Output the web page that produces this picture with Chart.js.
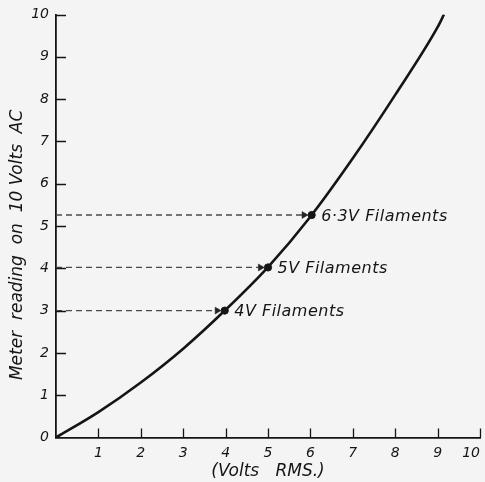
<!DOCTYPE html>
<html><head><meta charset="utf-8">
<script src="https://cdn.jsdelivr.net/npm/chart.js@4"></script>
<style>html,body{margin:0;padding:0;background:#f4f4f4;overflow:hidden}</style>
</head><body>
<canvas id="c" width="485" height="482"></canvas>
<script>
// ---- data ----
const curveX = [0, 1, 2, 3, 4, 5, 6, 7, 8, 9, 9.15];
const curveY = [0, 0.6, 1.3, 2.1, 3.02, 4.03, 5.22, 6.6, 8.1, 9.7, 10];
const markX = [3.98, 5.0, 6.03];
const markY = [3.0, 4.02, 5.26];
const markLabels = ['4V Filaments', '5V Filaments', '6\u00B73V Filaments'];
const xTickLabels = ['', '1', '2', '3', '4', '5', '6', '7', '8', '9', '10'];
const yTickLabels = ['0', '1', '2', '3', '4', '5', '6', '7', '8', '9', '10'];
const xTitle = '(Volts   RMS.)';
const yTitle = 'Meter  reading  on  10 Volts  AC       ';

// ---- styles ----
const INK = '#151515';
const FONT = 'DejaVu Sans';
const ARROW_GAP = 0.18;

const curve = curveX.map((x, i) => ({x, y: curveY[i]}));
const marks = markX.map((x, i) => ({x, y: markY[i]}));
const arrowSets = markX.map((x, i) => ({
  type: 'line',
  data: [{x: 0, y: markY[i]}, {x: x - ARROW_GAP, y: markY[i]}],
  borderColor: '#4a4a4a',
  borderWidth: 1.3,
  borderDash: [6, 4],
  backgroundColor: '#222',
  pointStyle: 'triangle',
  pointRotation: 90,
  pointRadius: c => c.dataIndex === 1 ? 4 : 0,
  pointBorderWidth: 0.5,
  pointBorderColor: '#222',
  order: 3
}));

// inward tick marks, placed from the library's scales
const inwardTicks = {
  id: 'inwardTicks',
  afterDraw(chart) {
    const {ctx, scales: {x, y}} = chart;
    ctx.save();
    ctx.strokeStyle = INK;
    ctx.lineWidth = 1.3;
    ctx.beginPath();
    x.ticks.forEach(t => {
      if (t.value === x.min) return;
      const px = Math.round(x.getPixelForValue(t.value)) + 0.5;
      ctx.moveTo(px, x.top);
      ctx.lineTo(px, x.top - 9);
    });
    y.ticks.forEach(t => {
      if (t.value === y.min) return;
      const py = Math.round(y.getPixelForValue(t.value)) + 0.5;
      ctx.moveTo(y.right, py);
      ctx.lineTo(y.right + 10, py);
    });
    ctx.stroke();
    ctx.restore();
  }
};

const labelPlugin = {
  id: 'markLabels',
  afterDatasetsDraw(chart) {
    const {ctx, scales: {x, y}} = chart;
    ctx.save();
    ctx.fillStyle = INK;
    ctx.font = 'italic 16px "' + FONT + '"';
    try { ctx.letterSpacing = '0.5px'; } catch (e) {}
    ctx.textBaseline = 'middle';
    ctx.textAlign = 'left';
    markLabels.forEach((t, i) => {
      ctx.fillText(t, x.getPixelForValue(markX[i]) + 9.5, y.getPixelForValue(markY[i]) + 1.5);
    });
    ctx.restore();
  }
};

const tickFont = {family: FONT, style: 'italic', size: 14};

new Chart(document.getElementById('c'), {
  type: 'line',
  data: {
    datasets: [
      {
        data: curve,
        borderColor: INK,
        borderWidth: 2.6,
        pointRadius: 0,
        cubicInterpolationMode: 'monotone',
        fill: false,
        order: 2
      },
      {
        data: marks,
        showLine: false,
        pointRadius: 3.6,
        pointBackgroundColor: INK,
        pointBorderColor: INK,
        order: 1
      },
      ...arrowSets
    ]
  },
  options: {
    responsive: false,
    animation: false,
    devicePixelRatio: 1,
    layout: {padding: {top: 14.5, right: 2, bottom: 0, left: 0}},
    plugins: {legend: {display: false}, tooltip: {enabled: false}},
    scales: {
      x: {
        type: 'linear', min: 0, max: 10,
        afterBuildTicks: s => { s.ticks = xTickLabels.map((_, i) => ({value: i})); },
        ticks: {
          align: 'inner', padding: 7, color: INK, font: tickFont,
          autoSkip: false, maxRotation: 0,
          callback: (v, i) => xTickLabels[i]
        },
        grid: {drawOnChartArea: false, drawTicks: false},
        border: {display: true, color: INK, width: 1.8},
        title: {display: true, text: xTitle, color: INK, font: {family: FONT, style: 'italic', size: 17}, padding: {top: 0, bottom: 0}},
        afterFit: s => { s.height = 44.5; s.paddingLeft = 0; s.paddingRight = 0; }
      },
      y: {
        type: 'linear', min: 0, max: 10,
        afterBuildTicks: s => { s.ticks = yTickLabels.map((_, i) => ({value: i})); },
        ticks: {
          padding: 7, color: INK, font: tickFont, autoSkip: false,
          callback: (v, i) => yTickLabels[i]
        },
        grid: {drawOnChartArea: false, drawTicks: false},
        border: {display: true, color: INK, width: 1.8},
        title: {display: true, text: yTitle, color: INK, font: {family: FONT, style: 'italic', size: 17}, padding: {top: 7, bottom: 0}},
        afterFit: s => { s.width = 56; s.paddingTop = 0; s.paddingBottom = 0; }
      }
    }
  },
  plugins: [labelPlugin, inwardTicks]
});
</script>
</body></html>
